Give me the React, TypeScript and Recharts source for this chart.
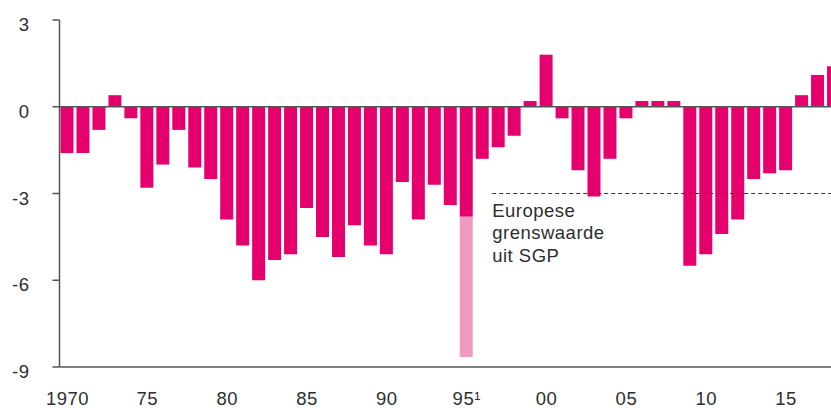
import { BarChart, Bar, XAxis, YAxis, ReferenceLine } from "recharts";

const years = [
  1970, 1971, 1972, 1973, 1974, 1975, 1976, 1977, 1978, 1979,
  1980, 1981, 1982, 1983, 1984, 1985, 1986, 1987, 1988, 1989,
  1990, 1991, 1992, 1993, 1994, 1995, 1996, 1997, 1998, 1999,
  2000, 2001, 2002, 2003, 2004, 2005, 2006, 2007, 2008, 2009,
  2010, 2011, 2012, 2013, 2014, 2015, 2016, 2017, 2018,
];

const saldo = [
  -1.6, -1.6, -0.8, 0.4, -0.4, -2.8, -2.0, -0.8, -2.1, -2.5,
  -3.9, -4.8, -6.0, -5.3, -5.1, -3.5, -4.5, -5.2, -4.1, -4.8,
  -5.1, -2.6, -3.9, -2.7, -3.4, -3.8, -1.8, -1.4, -1.0, 0.2,
  1.8, -0.4, -2.2, -3.1, -1.8, -0.4, 0.2, 0.2, 0.2, -5.5,
  -5.1, -4.4, -3.9, -2.5, -2.3, -2.2, 0.4, 1.1, 1.4,
];

// incidental extra in 1995 (footnote 1), drawn in light pink below the bar
const extraYears = [1995];
const extraValues = [-4.85];

const xTicks = [1970, 1975, 1980, 1985, 1990, 1995, 2000, 2005, 2010, 2015];
const xLabels = ["1970", "75", "80", "85", "90", "95\u00b9", "00", "05", "10", "15"];
const yTicks = [-9, -6, -3, 0, 3];

const noteLines = ["Europese", "grenswaarde", "uit SGP"];

const data = years.map((year, i) => {
  const k = extraYears.indexOf(year);
  return { year, saldo: saldo[i], extra: k >= 0 ? extraValues[k] : 0 };
});

const FONT = "'Liberation Sans', Arial, sans-serif";
const TEXT = "#2e2e2e";
const AXIS = "#555";

function XTick({ x, y, payload }: any) {
  const label = xLabels[xTicks.indexOf(payload.value)] ?? String(payload.value);
  return (
    <text x={x} y={y} dy={38} textAnchor="middle" fill={TEXT} fontSize={18.5} letterSpacing={0.5} fontFamily={FONT}>
      {label}
    </text>
  );
}

function YTick({ x, y, payload }: any) {
  return (
    <text x={x} y={y} dy={11} textAnchor="end" fill={TEXT} fontSize={18.5} letterSpacing={0.5} fontFamily={FONT}>
      {payload.value}
    </text>
  );
}

function NormLine(props: any) {
  const { x1, y1, x2 } = props;
  const start = x1 + 9.5;
  return (
    <g>
      <line x1={start} y1={y1} x2={x2 + 30} y2={y1} stroke="#333" strokeWidth={1} strokeDasharray="4 3" />
      <text x={start} y={y1} fill={TEXT} fontSize={18.5} letterSpacing={0.5} fontFamily={FONT}>
        {noteLines.map((t, i) => (
          <tspan key={t} x={start} dy={i === 0 ? 23 : 22.5}>
            {t}
          </tspan>
        ))}
      </text>
    </g>
  );
}

export default function App() {
  return (
    <div style={{ position: "fixed", left: 0, top: 0, width: 831, height: 408, overflow: "hidden", background: "#fff" }}>
      <BarChart
        width={842}
        height={408}
        data={data}
        margin={{ top: 20, right: 0, bottom: 0, left: 0 }}
        barSize={13}
      >
        <XAxis
          dataKey="year"
          ticks={xTicks}
          interval={0}
          tick={<XTick />}
          tickLine={false}
          tickSize={0}
          tickMargin={0}
          height={41}
          axisLine={{ stroke: AXIS, strokeWidth: 1.5 }}
        />
        <YAxis
          type="number"
          domain={[-9, 3]}
          ticks={yTicks}
          width={59.5}
          tick={<YTick />}
          tickSize={7}
          tickMargin={23}
          tickLine={{ stroke: AXIS, strokeWidth: 1.5 }}
          axisLine={{ stroke: AXIS, strokeWidth: 1.5 }}
        />
        <Bar dataKey="saldo" stackId="a" fill="#e6006e" isAnimationActive={false} />
        <Bar dataKey="extra" stackId="a" fill="#f09abf" isAnimationActive={false} />
        <ReferenceLine y={0} stroke={AXIS} strokeWidth={1.5} />
        <ReferenceLine
          segment={[{ x: 1996, y: -3 }, { x: 2018, y: -3 }]}
          shape={<NormLine />}
        />
      </BarChart>
    </div>
  );
}
